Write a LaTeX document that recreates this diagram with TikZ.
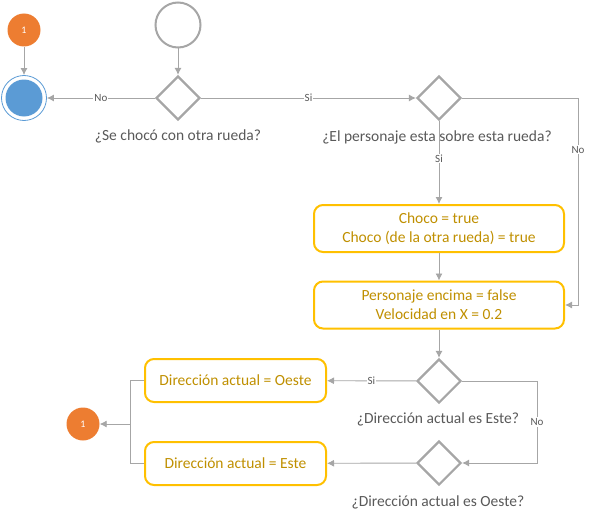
\documentclass[tikz,border=0pt]{standalone}
\usepackage{fontspec}
\setmainfont{Carlito}
\usetikzlibrary{positioning,shapes.geometric,arrows.meta,calc}
\tikzset{>={Latex[length=7pt,width=7pt]}}
\definecolor{LineGray}{RGB}{166,166,166}
\definecolor{TextGray}{RGB}{89,89,89}
\definecolor{BoxGold}{RGB}{255,192,0}
\definecolor{BoxText}{RGB}{191,143,0}
\definecolor{DotOrange}{RGB}{237,125,49}
\definecolor{EndBlue}{RGB}{91,155,213}
\begin{document}
\begin{tikzpicture}[x=1pt,y=-1pt,
        line/.style={LineGray,line width=0.9pt},
        decision/.style={diamond,draw=LineGray,line width=2.2pt,minimum size=44pt,inner sep=0pt},
        action/.style={draw=BoxGold,line width=2pt,rounded corners=9pt,text=BoxText,align=center,font=\fontsize{15.5}{19}\selectfont},
        question/.style={text=TextGray,font=\fontsize{15.5}{19}\selectfont},
        lbl/.style={fill=white,text=TextGray,inner sep=1pt,font=\fontsize{11}{13}\selectfont},
        jump/.style={circle,fill=DotOrange,text=white,minimum size=33pt,inner sep=0pt,font=\fontsize{10}{12}\selectfont}]
        \useasboundingbox (0,0) rectangle (591,519);
        % start and end
        \node[circle,draw=LineGray,line width=2pt,minimum size=45pt] at (178,25) (start) {};
        \node[circle,draw=EndBlue,line width=0.8pt,minimum size=45pt] at (24,98) (fin) {};
        \node[circle,fill=EndBlue,minimum size=37pt] at (fin) {};
        \node[jump] at (24,30) (jumpA) {1};
        \node[jump] at (83,424) (jumpB) {1};
        % decisions
        \node[decision] at (178,98) (chk) {};
        \node[decision] at (439,98) (over) {};
        \node[decision] at (439,381) (east) {};
        \node[decision] at (439,463) (west) {};
        % actions
        \node[action,minimum width=250pt,minimum height=47pt] at (439,228.5) (crash) {Choco = true\\Choco (de la otra rueda) = true};
        \node[action,minimum width=250pt,minimum height=47pt] at (439,305) (speed) {Personaje encima = false\\Velocidad en X = 0.2};
        \node[action,minimum width=181pt,minimum height=43pt] at (235.5,380.5) (toWest) {Dirección actual = Oeste};
        \node[action,minimum width=181pt,minimum height=43pt] at (235.5,463.5) (toEast) {Dirección actual = Este};
        % bends
        \coordinate (bendA) at (578,98);
        \coordinate (bendB) at (537,381);
        \coordinate (join) at (130,424);
        % connectors
        \draw[line,->] (jumpA) -- (fin);
        \draw[line,->] (start) -- (chk);
        \draw[line,->] (chk) -- node[lbl]{No} (fin);
        \draw[line,->] (chk) -- node[lbl]{Si} (over);
        \draw[line,->] (over) -- node[lbl,pos=0.45]{Si} (crash);
        \draw[line,->] (over) -- (bendA) -- node[lbl,pos=0.25]{No} (bendA |- speed) -- (speed);
        \draw[line,->] (crash) -- (speed);
        \draw[line,->] (speed) -- (east);
        \draw[line,->] (east) -- node[lbl]{Si} (toWest);
        \draw[line,->] (east) -- (bendB) -- node[lbl]{No} (bendB |- west) -- (west);
        \draw[line,->] (west) -- (toEast);
        \draw[line] (toWest) -| (join);
        \draw[line] (toEast) -| (join);
        \draw[line,->] (join) -- (jumpB);
        % questions
        \node[question] at (178,136) {¿Se chocó con otra rueda?};
        \node[question] at (437,137) {¿El personaje esta sobre esta rueda?};
        \node[question] at (438,419) {¿Dirección actual es Este?};
        \node[question] at (438,502) {¿Dirección actual es Oeste?};
\end{tikzpicture}
\end{document}
